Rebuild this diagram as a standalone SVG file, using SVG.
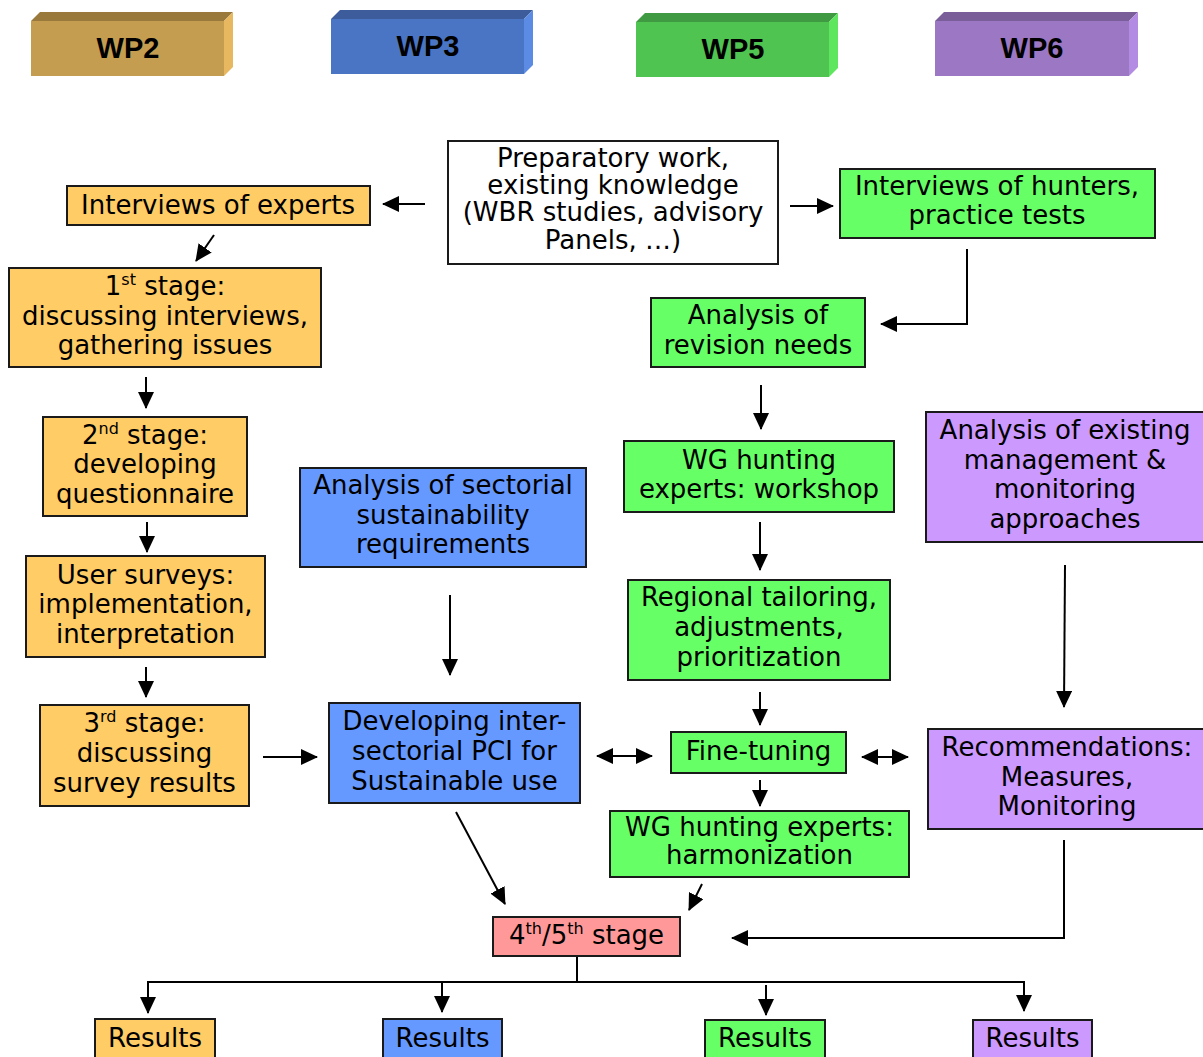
<svg xmlns="http://www.w3.org/2000/svg" width="1203" height="1057" viewBox="0 0 1203 1057">
<style>
.box{stroke:#1a1a1a;stroke-width:2}
.t{font-family:"DejaVu Sans","Verdana",sans-serif;font-size:26px;fill:#000;text-anchor:middle}
.wp{font-family:"Liberation Sans",Arial,sans-serif;font-weight:bold;font-size:29px;fill:#000;text-anchor:middle}
.c{fill:none;stroke:#000;stroke-width:2}
.sup{font-size:16px}
</style>
<defs>
<marker id="ah" markerUnits="userSpaceOnUse" markerWidth="17" markerHeight="16" refX="16" refY="8" orient="auto-start-reverse">
<path d="M0,0 L17,8 L0,16 z" fill="#000"/>
</marker>
</defs>
<rect width="1203" height="1057" fill="#fff"/>

<g id="wp2">
<polygon points="31,21 40,12 233,12 224,21" fill="#9A7A3C"/>
<polygon points="224,21 233,12 233,67 224,76" fill="#E8B860"/>
<rect x="31" y="21" width="193" height="55" fill="#C49D50"/>
<text class="wp" x="128" y="58">WP2</text>
</g>
<g id="wp3">
<polygon points="331,19 340,10 533,10 524,19" fill="#3D5C9C"/>
<polygon points="524,19 533,10 533,65 524,74" fill="#5B8BE3"/>
<rect x="331" y="19" width="193" height="55" fill="#4A75C5"/>
<text class="wp" x="428" y="56">WP3</text>
</g>
<g id="wp5">
<polygon points="636,22 645,13 838,13 829,22" fill="#3F9A42"/>
<polygon points="829,22 838,13 838,68 829,77" fill="#5EE65E"/>
<rect x="636" y="22" width="193" height="55" fill="#50C450"/>
<text class="wp" x="733" y="59">WP5</text>
</g>
<g id="wp6">
<polygon points="935,21 944,12 1138,12 1129,21" fill="#7A5E9A"/>
<polygon points="1129,21 1138,12 1138,67 1129,76" fill="#B38BE3"/>
<rect x="935" y="21" width="194" height="55" fill="#9B77C4"/>
<text class="wp" x="1032" y="58">WP6</text>
</g>

<g id="connectors">
<path class="c" d="M425,204 L383,204" marker-end="url(#ah)"/>
<path class="c" d="M790,206 L833,206" marker-end="url(#ah)"/>
<path class="c" d="M214,235 L196,261" marker-end="url(#ah)"/>
<path class="c" d="M967,249 L967,324 L881,324" marker-end="url(#ah)"/>
<path class="c" d="M146,377 L146,408" marker-end="url(#ah)"/>
<path class="c" d="M761,385 L761,429" marker-end="url(#ah)"/>
<path class="c" d="M147,522 L147,552" marker-end="url(#ah)"/>
<path class="c" d="M760,522 L760,570" marker-end="url(#ah)"/>
<path class="c" d="M1065,565 L1064,707" marker-end="url(#ah)"/>
<path class="c" d="M450,595 L450,675" marker-end="url(#ah)"/>
<path class="c" d="M146,667 L146,697" marker-end="url(#ah)"/>
<path class="c" d="M760,692 L760,725" marker-end="url(#ah)"/>
<path class="c" d="M263,757 L317,757" marker-end="url(#ah)"/>
<path class="c" d="M597,756 L652,756" marker-start="url(#ah)" marker-end="url(#ah)"/>
<path class="c" d="M862,757 L908,757" marker-start="url(#ah)" marker-end="url(#ah)"/>
<path class="c" d="M760,780 L760,806" marker-end="url(#ah)"/>
<path class="c" d="M456,812 L505,904" marker-end="url(#ah)"/>
<path class="c" d="M702,884 L689,910" marker-end="url(#ah)"/>
<path class="c" d="M1064,840 L1064,938 L732,938" marker-end="url(#ah)"/>
<path class="c" d="M577,956 L577,982"/>
<path class="c" d="M147,982 L1025,982"/>
<path class="c" d="M148,982 L148,1013" marker-end="url(#ah)"/>
<path class="c" d="M442,982 L442,1012" marker-end="url(#ah)"/>
<path class="c" d="M766,985 L766,1015" marker-end="url(#ah)"/>
<path class="c" d="M1024,982 L1024,1011" marker-end="url(#ah)"/>
</g>

<g id="prep">
<rect class="box" x="448" y="141" width="330" height="123" fill="#fff"/>
<text class="t" x="613" y="167">Preparatory work,</text>
<text class="t" x="613" y="194">existing knowledge</text>
<text class="t" x="613" y="221">(WBR studies, advisory</text>
<text class="t" x="613" y="249">Panels, …)</text>
</g>
<g id="int-experts">
<rect class="box" x="67" y="186" width="303" height="39" fill="#FFCC66"/>
<text class="t" x="218" y="214">Interviews of experts</text>
</g>
<g id="int-hunters">
<rect class="box" x="840" y="169" width="315" height="69" fill="#66FF66"/>
<text class="t" x="997" y="195">Interviews of hunters,</text>
<text class="t" x="997" y="224">practice tests</text>
</g>
<g id="stage1">
<rect class="box" x="9" y="268" width="312" height="99" fill="#FFCC66"/>
<text class="t" x="165" y="295">1<tspan class="sup" dy="-10">st</tspan><tspan dy="10"> stage:</tspan></text>
<text class="t" x="165" y="325">discussing interviews,</text>
<text class="t" x="165" y="354">gathering issues</text>
</g>
<g id="revision">
<rect class="box" x="651" y="298" width="214" height="69" fill="#66FF66"/>
<text class="t" x="758" y="324">Analysis of</text>
<text class="t" x="758" y="354">revision needs</text>
</g>
<g id="stage2">
<rect class="box" x="43" y="417" width="204" height="99" fill="#FFCC66"/>
<text class="t" x="145" y="444">2<tspan class="sup" dy="-10">nd</tspan><tspan dy="10"> stage:</tspan></text>
<text class="t" x="145" y="473">developing</text>
<text class="t" x="145" y="503">questionnaire</text>
</g>
<g id="workshop">
<rect class="box" x="624" y="441" width="270" height="71" fill="#66FF66"/>
<text class="t" x="759" y="469">WG hunting</text>
<text class="t" x="759" y="498">experts: workshop</text>
</g>
<g id="existing">
<rect class="box" x="926" y="412" width="279" height="130" fill="#CC99FF"/>
<text class="t" x="1065" y="439">Analysis of existing</text>
<text class="t" x="1065" y="469">management &amp;</text>
<text class="t" x="1065" y="498">monitoring</text>
<text class="t" x="1065" y="528">approaches</text>
</g>
<g id="sectorial">
<rect class="box" x="300" y="468" width="286" height="99" fill="#6699FF"/>
<text class="t" x="443" y="494">Analysis of sectorial</text>
<text class="t" x="443" y="524">sustainability</text>
<text class="t" x="443" y="553">requirements</text>
</g>
<g id="surveys">
<rect class="box" x="26" y="556" width="239" height="101" fill="#FFCC66"/>
<text class="t" x="145.5" y="584">User surveys:</text>
<text class="t" x="145.5" y="613">implementation,</text>
<text class="t" x="145.5" y="643">interpretation</text>
</g>
<g id="regional">
<rect class="box" x="628" y="580" width="262" height="100" fill="#66FF66"/>
<text class="t" x="759" y="606">Regional tailoring,</text>
<text class="t" x="759" y="636">adjustments,</text>
<text class="t" x="759" y="666">prioritization</text>
</g>
<g id="stage3">
<rect class="box" x="40" y="705" width="209" height="101" fill="#FFCC66"/>
<text class="t" x="144.5" y="732">3<tspan class="sup" dy="-10">rd</tspan><tspan dy="10"> stage:</tspan></text>
<text class="t" x="144.5" y="762">discussing</text>
<text class="t" x="144.5" y="792">survey results</text>
</g>
<g id="pci">
<rect class="box" x="329" y="703" width="251" height="100" fill="#6699FF"/>
<text class="t" x="454.5" y="730">Developing inter-</text>
<text class="t" x="454.5" y="760">sectorial PCI for</text>
<text class="t" x="454.5" y="790">Sustainable use</text>
</g>
<g id="finetuning">
<rect class="box" x="671" y="732" width="175" height="41" fill="#66FF66"/>
<text class="t" x="758.5" y="760">Fine-tuning</text>
</g>
<g id="recommendations">
<rect class="box" x="928" y="729" width="278" height="100" fill="#CC99FF"/>
<text class="t" x="1067" y="756">Recommendations:</text>
<text class="t" x="1067" y="786">Measures,</text>
<text class="t" x="1067" y="815">Monitoring</text>
</g>
<g id="harmonization">
<rect class="box" x="610" y="811" width="299" height="66" fill="#66FF66"/>
<text class="t" x="759.5" y="836">WG hunting experts:</text>
<text class="t" x="759.5" y="864">harmonization</text>
</g>
<g id="stage45">
<rect class="box" x="493" y="917" width="187" height="39" fill="#FF9999"/>
<text class="t" x="586.5" y="944">4<tspan class="sup" dy="-10">th</tspan><tspan dy="10">/5</tspan><tspan class="sup" dy="-10">th</tspan><tspan dy="10"> stage</tspan></text>
</g>
<g id="results-wp2">
<rect class="box" x="95" y="1019" width="120" height="45" fill="#FFCC66"/>
<text class="t" x="155" y="1047">Results</text>
</g>
<g id="results-wp3">
<rect class="box" x="383" y="1019" width="119" height="45" fill="#6699FF"/>
<text class="t" x="442.5" y="1047">Results</text>
</g>
<g id="results-wp5">
<rect class="box" x="705" y="1020" width="120" height="45" fill="#66FF66"/>
<text class="t" x="765" y="1047">Results</text>
</g>
<g id="results-wp6">
<rect class="box" x="973" y="1020" width="119" height="45" fill="#CC99FF"/>
<text class="t" x="1032.5" y="1047">Results</text>
</g>
</svg>
